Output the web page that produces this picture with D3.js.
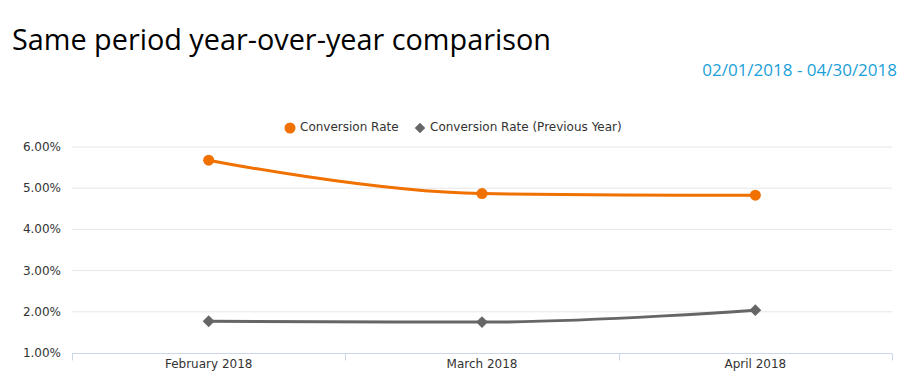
<!DOCTYPE html>
<html>
<head>
<meta charset="utf-8">
<script src="https://cdn.jsdelivr.net/npm/d3@7"></script>
<style>
  body { margin: 0; background: #fff; }
  svg { display: block; }
</style>
</head>
<body>
<div id="chart"></div>
<script>
// chart data
var months = ["February 2018", "March 2018", "April 2018"];
var conversionRate = [5.68, 4.87, 4.83];
var conversionRatePrev = [1.77, 1.75, 2.04];
var yTicks = [1, 2, 3, 4, 5, 6];

var width = 921, height = 388;
var margin = { left: 72, right: 29, top: 147, bottom: 35 };

var svg = d3.select("#chart").append("svg")
  .attr("width", width)
  .attr("height", height);

// title + date range
svg.append("text")
  .attr("x", 12).attr("y", 50)
  .attr("font-family", "Open Sans")
  .attr("font-size", 28.8)
  .attr("fill", "#000")
  .text("Same period year-over-year comparison");

svg.append("text")
  .attr("x", 897).attr("y", 76)
  .attr("text-anchor", "end")
  .attr("font-family", "Open Sans")
  .attr("font-size", 17)
  .attr("fill", "#1aa0d8")
  .text("02/01/2018 - 04/30/2018");

var x = d3.scaleBand()
  .domain(months)
  .range([margin.left, width - margin.right]);

var y = d3.scaleLinear()
  .domain([1, 6])
  .range([height - margin.bottom, margin.top]);

var labelFont = "Verdana, 'DejaVu Sans', sans-serif";
var labelSize = 12;

// gridlines
svg.append("g").selectAll("line")
  .data(yTicks.slice(1))
  .join("line")
  .attr("x1", margin.left).attr("x2", width - margin.right)
  .attr("y1", d => y(d)).attr("y2", d => y(d))
  .attr("stroke", "#e6e6e6").attr("stroke-width", 1);

// y axis labels
svg.append("g").selectAll("text")
  .data(yTicks)
  .join("text")
  .attr("x", 61)
  .attr("y", d => y(d) + 4)
  .attr("text-anchor", "end")
  .attr("font-family", labelFont)
  .attr("font-size", labelSize)
  .attr("fill", "#333")
  .text(d => d.toFixed(2) + "%");

// x axis
var xAxis = svg.append("g")
  .attr("transform", "translate(0," + (y(1) + 0.5) + ")");

xAxis.append("line")
  .attr("x1", margin.left).attr("x2", width - margin.right)
  .attr("stroke", "#ccd6eb");

var edges = months.map(m => x(m)).concat([x(months[months.length - 1]) + x.bandwidth()]);
xAxis.selectAll("line.tick")
  .data(edges)
  .join("line")
  .attr("class", "tick")
  .attr("x1", d => Math.round(d) + 0.5).attr("x2", d => Math.round(d) + 0.5)
  .attr("y1", 0).attr("y2", 7)
  .attr("stroke", "#ccd6eb");

xAxis.selectAll("text")
  .data(months)
  .join("text")
  .attr("x", d => x(d) + x.bandwidth() / 2)
  .attr("y", 14)
  .attr("text-anchor", "middle")
  .attr("font-family", labelFont)
  .attr("font-size", labelSize)
  .attr("fill", "#333")
  .text(d => d);

var cx = d => x(d) + x.bandwidth() / 2;

// highcharts-style spline (smoothing 1.5, no overshoot)
function spline(values) {
  var pts = values.map((v, i) => ({ x: cx(months[i]), y: y(v) }));
  var s = 1.5, den = s + 1;
  pts.forEach((p, i) => {
    var a = pts[i - 1], b = pts[i + 1];
    if (!a || !b) return;
    var lx = (s * p.x + a.x) / den, ly = (s * p.y + a.y) / den;
    var rx = (s * p.x + b.x) / den, ry = (s * p.y + b.y) / den;
    var c = (ry - ly) * (rx - p.x) / (rx - lx) + p.y - ry;
    ly += c; ry += c;
    if (ly > a.y && ly > p.y) { ly = Math.max(a.y, p.y); ry = 2 * p.y - ly; }
    else if (ly < a.y && ly < p.y) { ly = Math.min(a.y, p.y); ry = 2 * p.y - ly; }
    if (ry > b.y && ry > p.y) { ry = Math.max(b.y, p.y); ly = 2 * p.y - ry; }
    else if (ry < b.y && ry < p.y) { ry = Math.min(b.y, p.y); ly = 2 * p.y - ry; }
    p.lx = lx; p.ly = ly; p.rx = rx; p.ry = ry;
  });
  var path = d3.path();
  path.moveTo(pts[0].x, pts[0].y);
  for (var i = 1; i < pts.length; i++) {
    var a = pts[i - 1], p = pts[i];
    path.bezierCurveTo(
      a.rx != null ? a.rx : a.x, a.ry != null ? a.ry : a.y,
      p.lx != null ? p.lx : p.x, p.ly != null ? p.ly : p.y,
      p.x, p.y);
  }
  return path.toString();
}

// previous year series
svg.append("path")
  .attr("d", spline(conversionRatePrev))
  .attr("fill", "none")
  .attr("stroke", "#666")
  .attr("stroke-width", 3);

svg.append("g").selectAll("path")
  .data(conversionRatePrev)
  .join("path")
  .attr("d", d3.symbol(d3.symbolDiamond2, 90))
  .attr("transform", (d, i) => "translate(" + cx(months[i]) + "," + y(d) + ")")
  .attr("fill", "#666");

// current series
svg.append("path")
  .attr("d", spline(conversionRate))
  .attr("fill", "none")
  .attr("stroke", "#f07000")
  .attr("stroke-width", 3);

svg.append("g").selectAll("circle")
  .data(conversionRate)
  .join("circle")
  .attr("cx", (d, i) => cx(months[i]))
  .attr("cy", d => y(d))
  .attr("r", 5.5)
  .attr("fill", "#f07000");

// legend
var legend = svg.append("g").attr("font-family", labelFont).attr("font-size", labelSize).attr("fill", "#333");
legend.append("circle").attr("cx", 290).attr("cy", 128).attr("r", 5.5).attr("fill", "#f07000");
legend.append("text").attr("x", 300).attr("y", 131).text("Conversion Rate");
legend.append("path")
  .attr("d", d3.symbol(d3.symbolDiamond2, 70))
  .attr("transform", "translate(420,128)")
  .attr("fill", "#666");
legend.append("text").attr("x", 430).attr("y", 131).text("Conversion Rate (Previous Year)");
</script>
</body>
</html>
